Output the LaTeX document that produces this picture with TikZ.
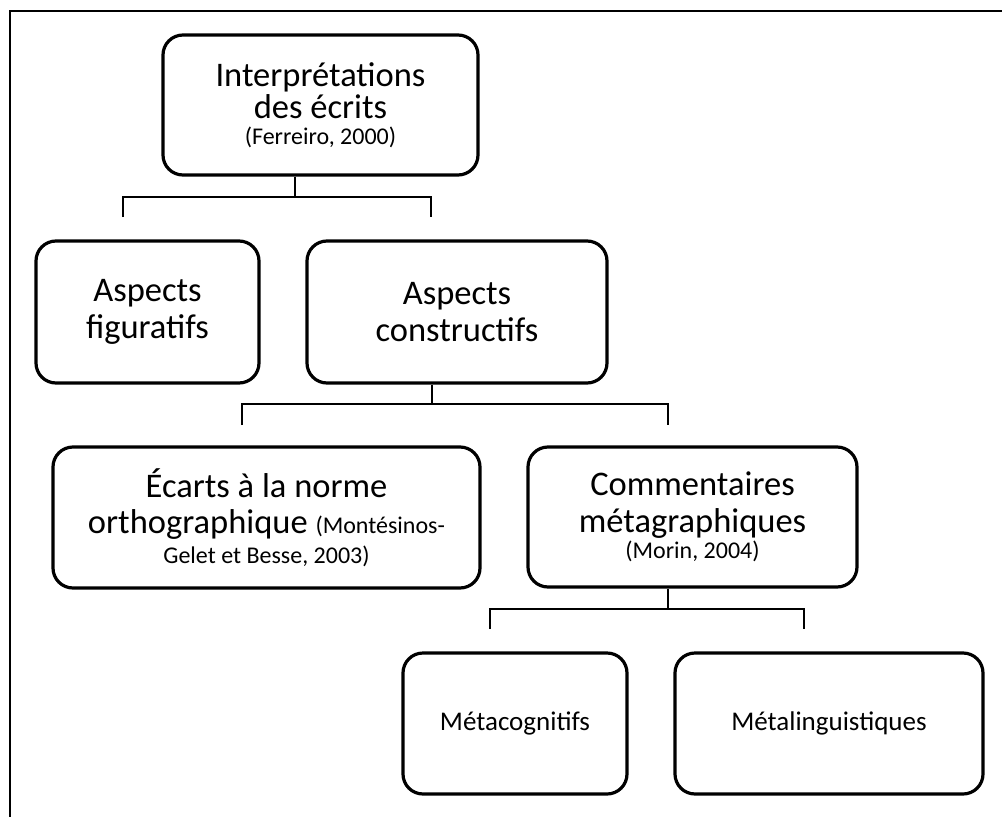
\documentclass[tikz,border=0pt]{standalone}
\usepackage{fontspec}
\setmainfont{Carlito}
\newcommand\mainsz{\fontsize{34.5}{35}\selectfont}
\newcommand\citesz{\fontsize{24}{27}\selectfont}
\newcommand\leafsz{\fontsize{27}{30}\selectfont}
\begin{document}
\begin{tikzpicture}[x=1pt,y=-1pt,
  box/.style={draw, line width=3.2pt, rounded corners=20pt, align=center, inner sep=0pt, font=\mainsz},
  link/.style={line width=2.6pt},
  frame/.style={line width=2pt}]
\useasboundingbox (0,0) rectangle (1002,817);
% outer frame (top and left only)
\coordinate (fa) at (1002,11);
\coordinate (fb) at (9.5,11);
\coordinate (fc) at (9.5,817);
\draw[frame] (fa) -- (fb) -- (fc);
% boxes
\node[box, minimum width=315pt, minimum height=140pt] (top) at (320.5,105)
  {Interprétations\\[-3pt] des écrits\\[-9pt] {\citesz (Ferreiro, 2000)}};
\node[box, minimum width=223pt, minimum height=142pt] (fig) at (147.5,312)
  {Aspects\\[2pt] figuratifs};
\node[box, minimum width=300pt, minimum height=142pt] (con) at (457,312)
  {Aspects\\[2pt] constructifs};
\node[box, minimum width=427pt, minimum height=141pt] (eca) at (266.5,517.5)
  {Écarts à la norme\\[1pt] orthographique {\citesz (Montésinos-}\\[-5pt] {\citesz Gelet et Besse, 2003)}};
\node[box, minimum width=329pt, minimum height=140pt] (com) at (692.5,517)
  {Commentaires\\[2pt] métagraphiques\\[-9pt] {\citesz (Morin, 2004)}};
\node[box, font=\leafsz, minimum width=224pt, minimum height=141pt] (mco) at (515,723.5)
  {Métacognitifs};
\node[box, font=\leafsz, minimum width=308pt, minimum height=141pt] (mli) at (829,723.5)
  {Métalinguistiques};
% connectors
\coordinate (j1) at (295,197);
\coordinate (d1a) at (123,217);
\coordinate (d1b) at (431,217);
\draw[link] (top.south -| j1) -- (j1);
\draw[link] (d1a) |- (j1) -| (d1b);
\coordinate (j2) at (432,404);
\coordinate (d2a) at (242,425);
\coordinate (d2b) at (668,425);
\draw[link] (con.south -| j2) -- (j2);
\draw[link] (d2a) |- (j2) -| (d2b);
\coordinate (j3) at (668,609);
\coordinate (d3a) at (490,629);
\coordinate (d3b) at (804,629);
\draw[link] (com.south -| j3) -- (j3);
\draw[link] (d3a) |- (j3) -| (d3b);
\end{tikzpicture}
\end{document}
